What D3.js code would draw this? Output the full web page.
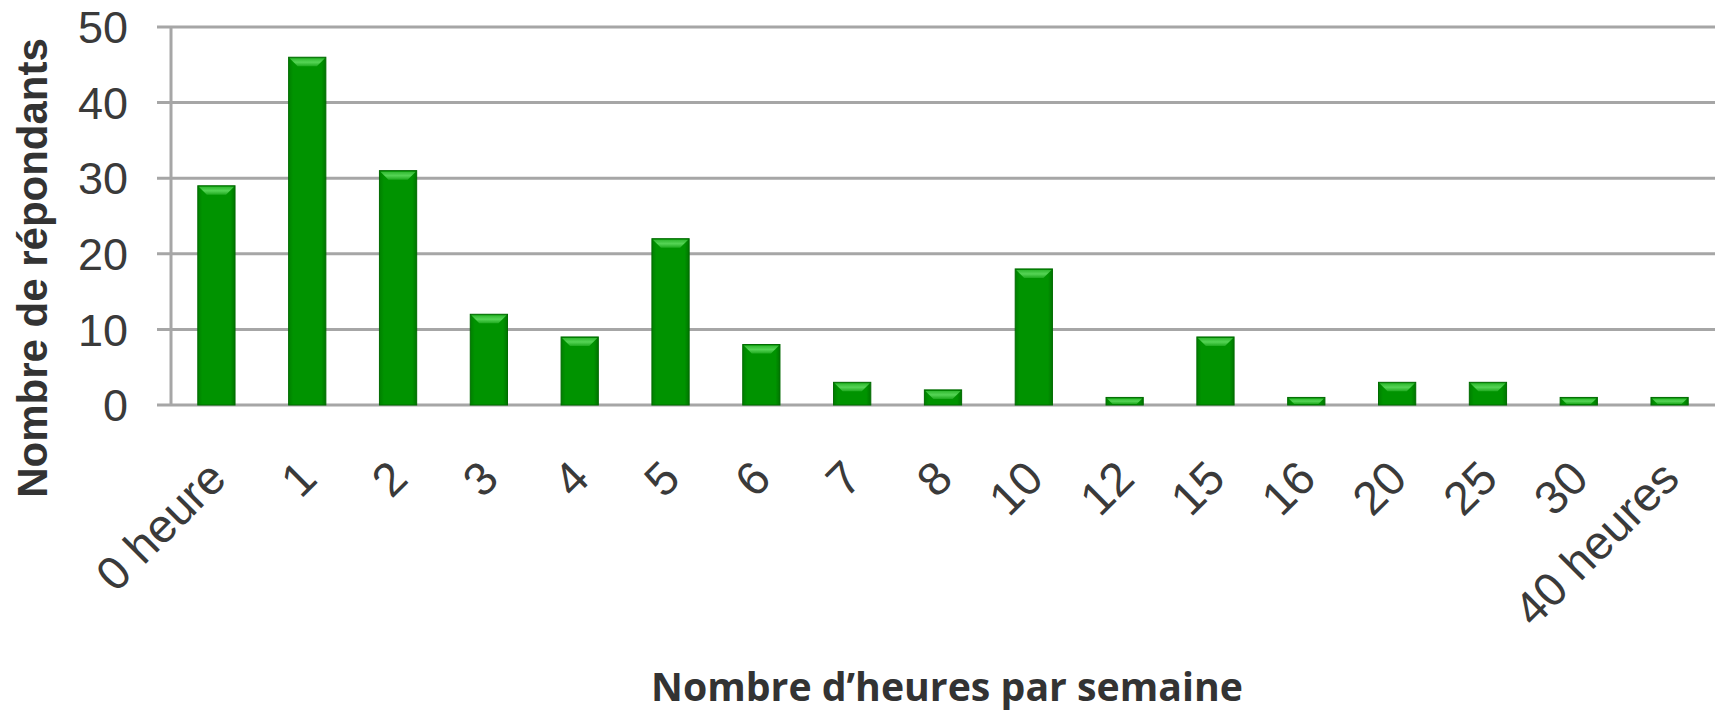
<!DOCTYPE html>
<html>
<head>
<meta charset="utf-8">
<script src="https://cdn.jsdelivr.net/npm/d3@7"></script>
<style>
  html, body { margin: 0; padding: 0; background: #fff; }
  svg { display: block; }
  .tick-label { font-family: Arial, "Liberation Sans", sans-serif; fill: #3a3a3a; }
</style>
</head>
<body>
<div id="chart"></div>
<script>
// --- Data ---
const categories = ["0 heure", "1", "2", "3", "4", "5", "6", "7", "8", "10", "12", "15", "16", "20", "25", "30", "40 heures"];
const respondents = [29, 46, 31, 12, 9, 22, 8, 3, 2, 18, 1, 9, 1, 3, 3, 1, 1];
const yTicks = [0, 10, 20, 30, 40, 50];

// --- Layout ---
const W = 1715, H = 715;
const margin = { top: 27, right: 0, bottom: 310, left: 171 };
const gridColor = "#a6a6a6";

const svg = d3.select("#chart").append("svg")
  .attr("width", W)
  .attr("height", H);

const x = d3.scaleBand()
  .domain(categories)
  .range([margin.left, W - margin.right])
  .paddingInner(0.59)
  .paddingOuter(0.295);

const y = d3.scaleLinear()
  .domain([0, 50])
  .range([H - margin.bottom, margin.top]);

// gridlines (with little outward ticks)
svg.append("g").selectAll("line")
  .data(yTicks)
  .enter().append("line")
  .attr("x1", margin.left - 14)
  .attr("x2", W - margin.right)
  .attr("y1", d => y(d))
  .attr("y2", d => y(d))
  .attr("stroke", gridColor)
  .attr("stroke-width", 3);

// vertical axis line
svg.append("line")
  .attr("x1", margin.left).attr("x2", margin.left)
  .attr("y1", y(50)).attr("y2", y(0))
  .attr("stroke", gridColor)
  .attr("stroke-width", 3);

// y tick labels
svg.append("g").selectAll("text")
  .data(yTicks)
  .enter().append("text")
  .attr("class", "tick-label")
  .attr("x", margin.left - 43)
  .attr("y", d => y(d))
  .attr("dy", "0.36em")
  .attr("text-anchor", "end")
  .attr("font-size", 45)
  .text(d => d);

// gradient for the bars
const defs = svg.append("defs");
const body = defs.append("linearGradient").attr("id", "barBody");
body.append("stop").attr("offset", "0%").attr("stop-color", "#007f00");
body.append("stop").attr("offset", "12%").attr("stop-color", "#009300");
body.append("stop").attr("offset", "88%").attr("stop-color", "#009300");
body.append("stop").attr("offset", "100%").attr("stop-color", "#007500");

const bevel = defs.append("linearGradient").attr("id", "barTop")
  .attr("x1", 0).attr("y1", 0).attr("x2", 0).attr("y2", 1);
bevel.append("stop").attr("offset", "0%").attr("stop-color", "#2fb82f");
bevel.append("stop").attr("offset", "50%").attr("stop-color", "#55d455");
bevel.append("stop").attr("offset", "100%").attr("stop-color", "#1faa1f");

const bars = svg.append("g").selectAll("g.bar")
  .data(categories.map((c, i) => ({ cat: c, value: respondents[i] })))
  .enter().append("g")
  .attr("class", "bar");

bars.append("rect")
  .attr("x", d => x(d.cat))
  .attr("y", d => y(d.value))
  .attr("width", x.bandwidth())
  .attr("height", d => y(0) - y(d.value))
  .attr("fill", "url(#barBody)")
  .attr("stroke", "#006a00")
  .attr("stroke-width", 1);

// top bevel
bars.append("path")
  .attr("d", d => {
    const x0 = x(d.cat) + 1, x1 = x(d.cat) + x.bandwidth() - 1;
    const t = y(d.value) + 1;
    const h = Math.min(8, (y(0) - y(d.value)) - 2);
    return `M${x0},${t}L${x1},${t}L${x1 - h},${t + h}L${x0 + h},${t + h}Z`;
  })
  .attr("fill", "url(#barTop)");

// x tick labels (rotated)
svg.append("g").selectAll("text")
  .data(categories)
  .enter().append("text")
  .attr("class", "tick-label")
  .attr("font-size", 47)
  .attr("text-anchor", "end")
  .attr("transform", d => `translate(${x(d) + x.bandwidth() / 2 + 12},${y(0) + 76}) rotate(-45)`)
  .text(d => d);

// axis titles
svg.append("text")
  .attr("transform", `translate(47,268) rotate(-90)`)
  .attr("text-anchor", "middle")
  .attr("font-family", "Arial, 'Liberation Sans', sans-serif")
  .attr("font-weight", "bold")
  .attr("font-size", 42)
  .attr("fill", "#333")
  .text("Nombre de répondants");

svg.append("text")
  .attr("x", 947)
  .attr("y", 701)
  .attr("text-anchor", "middle")
  .attr("font-family", "'Open Sans', sans-serif")
  .attr("font-weight", "bold")
  .attr("font-size", 39)
  .attr("textLength", 592)
  .attr("lengthAdjust", "spacingAndGlyphs")
  .attr("fill", "#333")
  .text("Nombre d’heures par semaine");
</script>
</body>
</html>
